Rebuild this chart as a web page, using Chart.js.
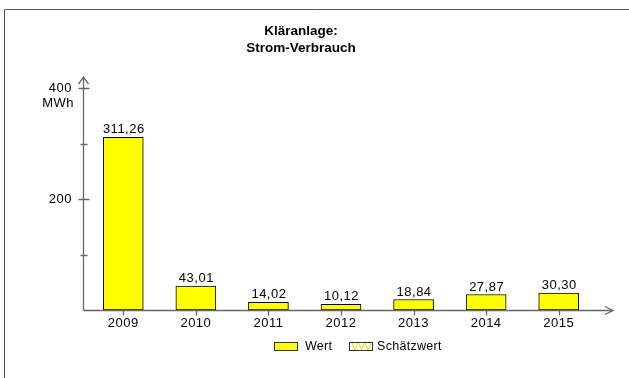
<!DOCTYPE html>
<html>
<head>
<meta charset="utf-8">
<title>Kläranlage: Strom-Verbrauch</title>
<script src="https://cdn.jsdelivr.net/npm/chart.js@4/dist/chart.umd.min.js"></script>
<style>
    body { margin: 0; background: #fff; }
    #wrap { width: 629px; height: 378px; }
</style>
</head>
<body>
<div id="wrap"><canvas id="myChart" width="629" height="378"></canvas></div>
<script>
const years = ['2009', '2010', '2011', '2012', '2013', '2014', '2015'];
const wert = [311.26, 43.01, 14.02, 10.12, 18.84, 27.87, 30.30];
const schaetzwert = [null, null, null, null, null, null, null];
const yTicks = [200, 400];
const yMinorTicks = [100, 300];
const titleLines = ['Kläranlage:', 'Strom-Verbrauch'];
const unit = 'MWh';

const FONT = '"Liberation Sans", Arial, sans-serif';
const fmt = v => v.toLocaleString('de-DE', { minimumFractionDigits: 2, maximumFractionDigits: 2 });

// frame, title, axes with arrows, value labels and legend
const decorations = {
    id: 'decorations',
    beforeDraw(chart) {
        const ctx = chart.ctx;
        ctx.save();
        ctx.strokeStyle = '#555';
        ctx.lineWidth = 1;
        ctx.beginPath();
        ctx.moveTo(4.5, 378);
        ctx.lineTo(4.5, 9.5);
        ctx.lineTo(629, 9.5);
        ctx.stroke();

        ctx.fillStyle = '#000';
        ctx.font = 'bold 13.5px ' + FONT;
        ctx.textAlign = 'center';
        ctx.textBaseline = 'middle';
        titleLines.forEach((t, i) => ctx.fillText(t, 301, 31 + i * 17));
        ctx.restore();
        // the plain labels are set a little wider
        ctx.letterSpacing = '0.5px';
    },
    afterDatasetsDraw(chart) {
        const ctx = chart.ctx;
        const x = chart.scales.x, y = chart.scales.y;
        const ax = 83.5, ay = Math.round(y.getPixelForValue(0)) + 0.5;
        ctx.save();
        ctx.strokeStyle = '#666';
        ctx.lineWidth = 1.3;
        ctx.beginPath();
        ctx.moveTo(ax, ay);
        ctx.lineTo(ax, 77);
        ctx.moveTo(ax - 5, 84);
        ctx.lineTo(ax, 77);
        ctx.lineTo(ax + 5, 84);
        ctx.moveTo(ax, ay);
        ctx.lineTo(613, ay);
        ctx.moveTo(605, ay - 4);
        ctx.lineTo(613, ay);
        ctx.lineTo(605, ay + 4);
        yTicks.forEach(v => {
            const py = Math.round(y.getPixelForValue(v)) + 0.5;
            ctx.moveTo(ax - 5, py);
            ctx.lineTo(ax + 6, py);
        });
        yMinorTicks.forEach(v => {
            const py = Math.round(y.getPixelForValue(v)) + 0.5;
            ctx.moveTo(ax - 3, py);
            ctx.lineTo(ax + 4, py);
        });
        years.forEach((_, i) => {
            const px = Math.round(x.getPixelForValue(i)) + 0.5;
            ctx.moveTo(px, ay);
            ctx.lineTo(px, ay + 5);
        });
        ctx.stroke();

        ctx.fillStyle = '#000';
        ctx.font = '13px ' + FONT;
        ctx.textAlign = 'right';
        ctx.textBaseline = 'middle';
        ctx.fillText(unit, 74, 103);

        ctx.textAlign = 'center';
        ctx.textBaseline = 'alphabetic';
        chart.getDatasetMeta(0).data.forEach((bar, i) => {
            ctx.fillText(fmt(wert[i]), bar.x + 0.5, bar.y - 4);
        });

        // legend
        const ly = 342;
        ctx.lineWidth = 1;
        ctx.strokeStyle = '#333';
        ctx.fillStyle = '#ffff00';
        ctx.fillRect(274.5, ly + 0.5, 23, 8);
        ctx.strokeRect(274.5, ly + 0.5, 23, 8);
        ctx.fillStyle = '#fff';
        ctx.fillRect(349.5, ly + 0.5, 23, 8);
        ctx.strokeStyle = '#e6e600';
        ctx.beginPath();
        for (let k = 0; k < 3; k++) {
            const sx = 352 + k * 6.5;
            ctx.moveTo(sx, ly + 1);
            ctx.lineTo(sx + 3, ly + 8);
            ctx.lineTo(sx + 6, ly + 1);
        }
        ctx.stroke();
        ctx.strokeStyle = '#333';
        ctx.strokeRect(349.5, ly + 0.5, 23, 8);

        ctx.fillStyle = '#000';
        ctx.textAlign = 'left';
        ctx.textBaseline = 'middle';
        ctx.font = '12.5px ' + FONT;
        ctx.letterSpacing = '0.3px';
        ctx.fillText('Wert', 305, ly + 5);
        ctx.fillText('Schätzwert', 377, ly + 5);
        ctx.restore();
    }
};

const ctx = document.getElementById('myChart').getContext('2d');
const myChart = new Chart(ctx, {
    type: 'bar',
    data: {
        labels: years,
        datasets: [{
            label: 'Wert',
            data: wert,
            backgroundColor: '#ffff00',
            borderColor: '#000',
            borderWidth: 1,
            borderSkipped: false,
            barThickness: 40,
            grouped: false
        }, {
            label: 'Schätzwert',
            data: schaetzwert,
            backgroundColor: '#fff',
            borderColor: '#000',
            borderWidth: 1,
            barThickness: 40,
            grouped: false
        }]
    },
    options: {
        responsive: false,
        animation: false,
        layout: { padding: { left: 0, right: 34, top: 88, bottom: 38 } },
        plugins: {
            legend: { display: false },
            title: { display: false },
            tooltip: { enabled: false }
        },
        scales: {
            x: {
                offset: true,
                grid: { display: false, drawTicks: false },
                border: { display: false },
                ticks: { color: '#000', font: { family: FONT, size: 13 }, padding: 6 },
                afterFit: s => { s.height = 30; }
            },
            y: {
                min: 0,
                max: 400,
                grid: { display: false, drawTicks: false },
                border: { display: false },
                afterBuildTicks: s => { s.ticks = yTicks.map(v => ({ value: v })); },
                ticks: { color: '#000', font: { family: FONT, size: 13 }, padding: 15 },
                afterFit: s => { s.width = 87; }
            }
        }
    },
    plugins: [decorations]
});
</script>
</body>
</html>
